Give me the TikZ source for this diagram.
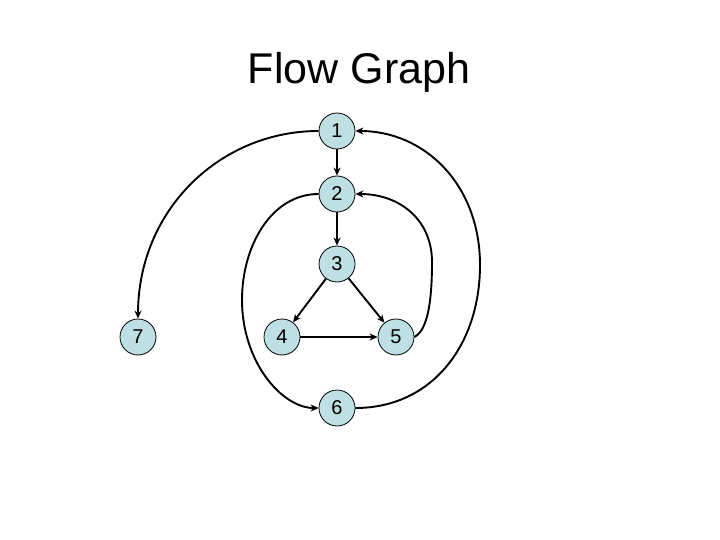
\documentclass[tikz,border=0pt]{standalone}
\usepackage{fontspec}
\setmainfont{Liberation Sans}
\usetikzlibrary{arrows.meta}
\definecolor{nodefill}{RGB}{190,224,228}
\tikzset{
  vert/.style={circle, draw=black, line width=0.8pt, fill=nodefill, minimum size=36pt, inner sep=0pt, font=\fontsize{20}{20}\selectfont},
  edge/.style={line width=1.9pt, -{Stealth[length=8pt,width=7pt]}}
}
\begin{document}
\begin{tikzpicture}[x=1pt,y=-1pt]
\useasboundingbox (0,0) rectangle (720,540);
\node[font=\fontsize{43}{43}\selectfont, anchor=base] (title) at (359,84) {Flow Graph};
\node[vert] (n1) at (337,131) {1};
\node[vert] (n2) at (337,194) {2};
\node[vert] (n3) at (337,264) {3};
\node[vert] (n4) at (282,337) {4};
\node[vert] (n5) at (396,337) {5};
\node[vert] (n6) at (337,408) {6};
\node[vert] (n7) at (138,337) {7};
\draw[edge] (n1) -- (n2);
\draw[edge] (n2) -- (n3);
\draw[edge] (n3) -- (n4);
\draw[edge] (n3) -- (n5);
\draw[edge] (n4) -- (n5);
\draw[edge] (n1.west) .. controls (220,131) and (138,210) .. (n7.north);
\draw[edge] (n6.east) .. controls (432,408) and (480,345) .. (480,265) .. controls (480,185) and (425,131) .. (n1.east);
\draw[edge] (n5.east) .. controls (428,330) and (432,300) .. (432,262) .. controls (432,220) and (400,194) .. (n2.east);
\draw[edge] (n2.west) .. controls (272,194) and (242,245) .. (242,300) .. controls (242,362) and (282,408) .. (n6.west);
\end{tikzpicture}
\end{document}
